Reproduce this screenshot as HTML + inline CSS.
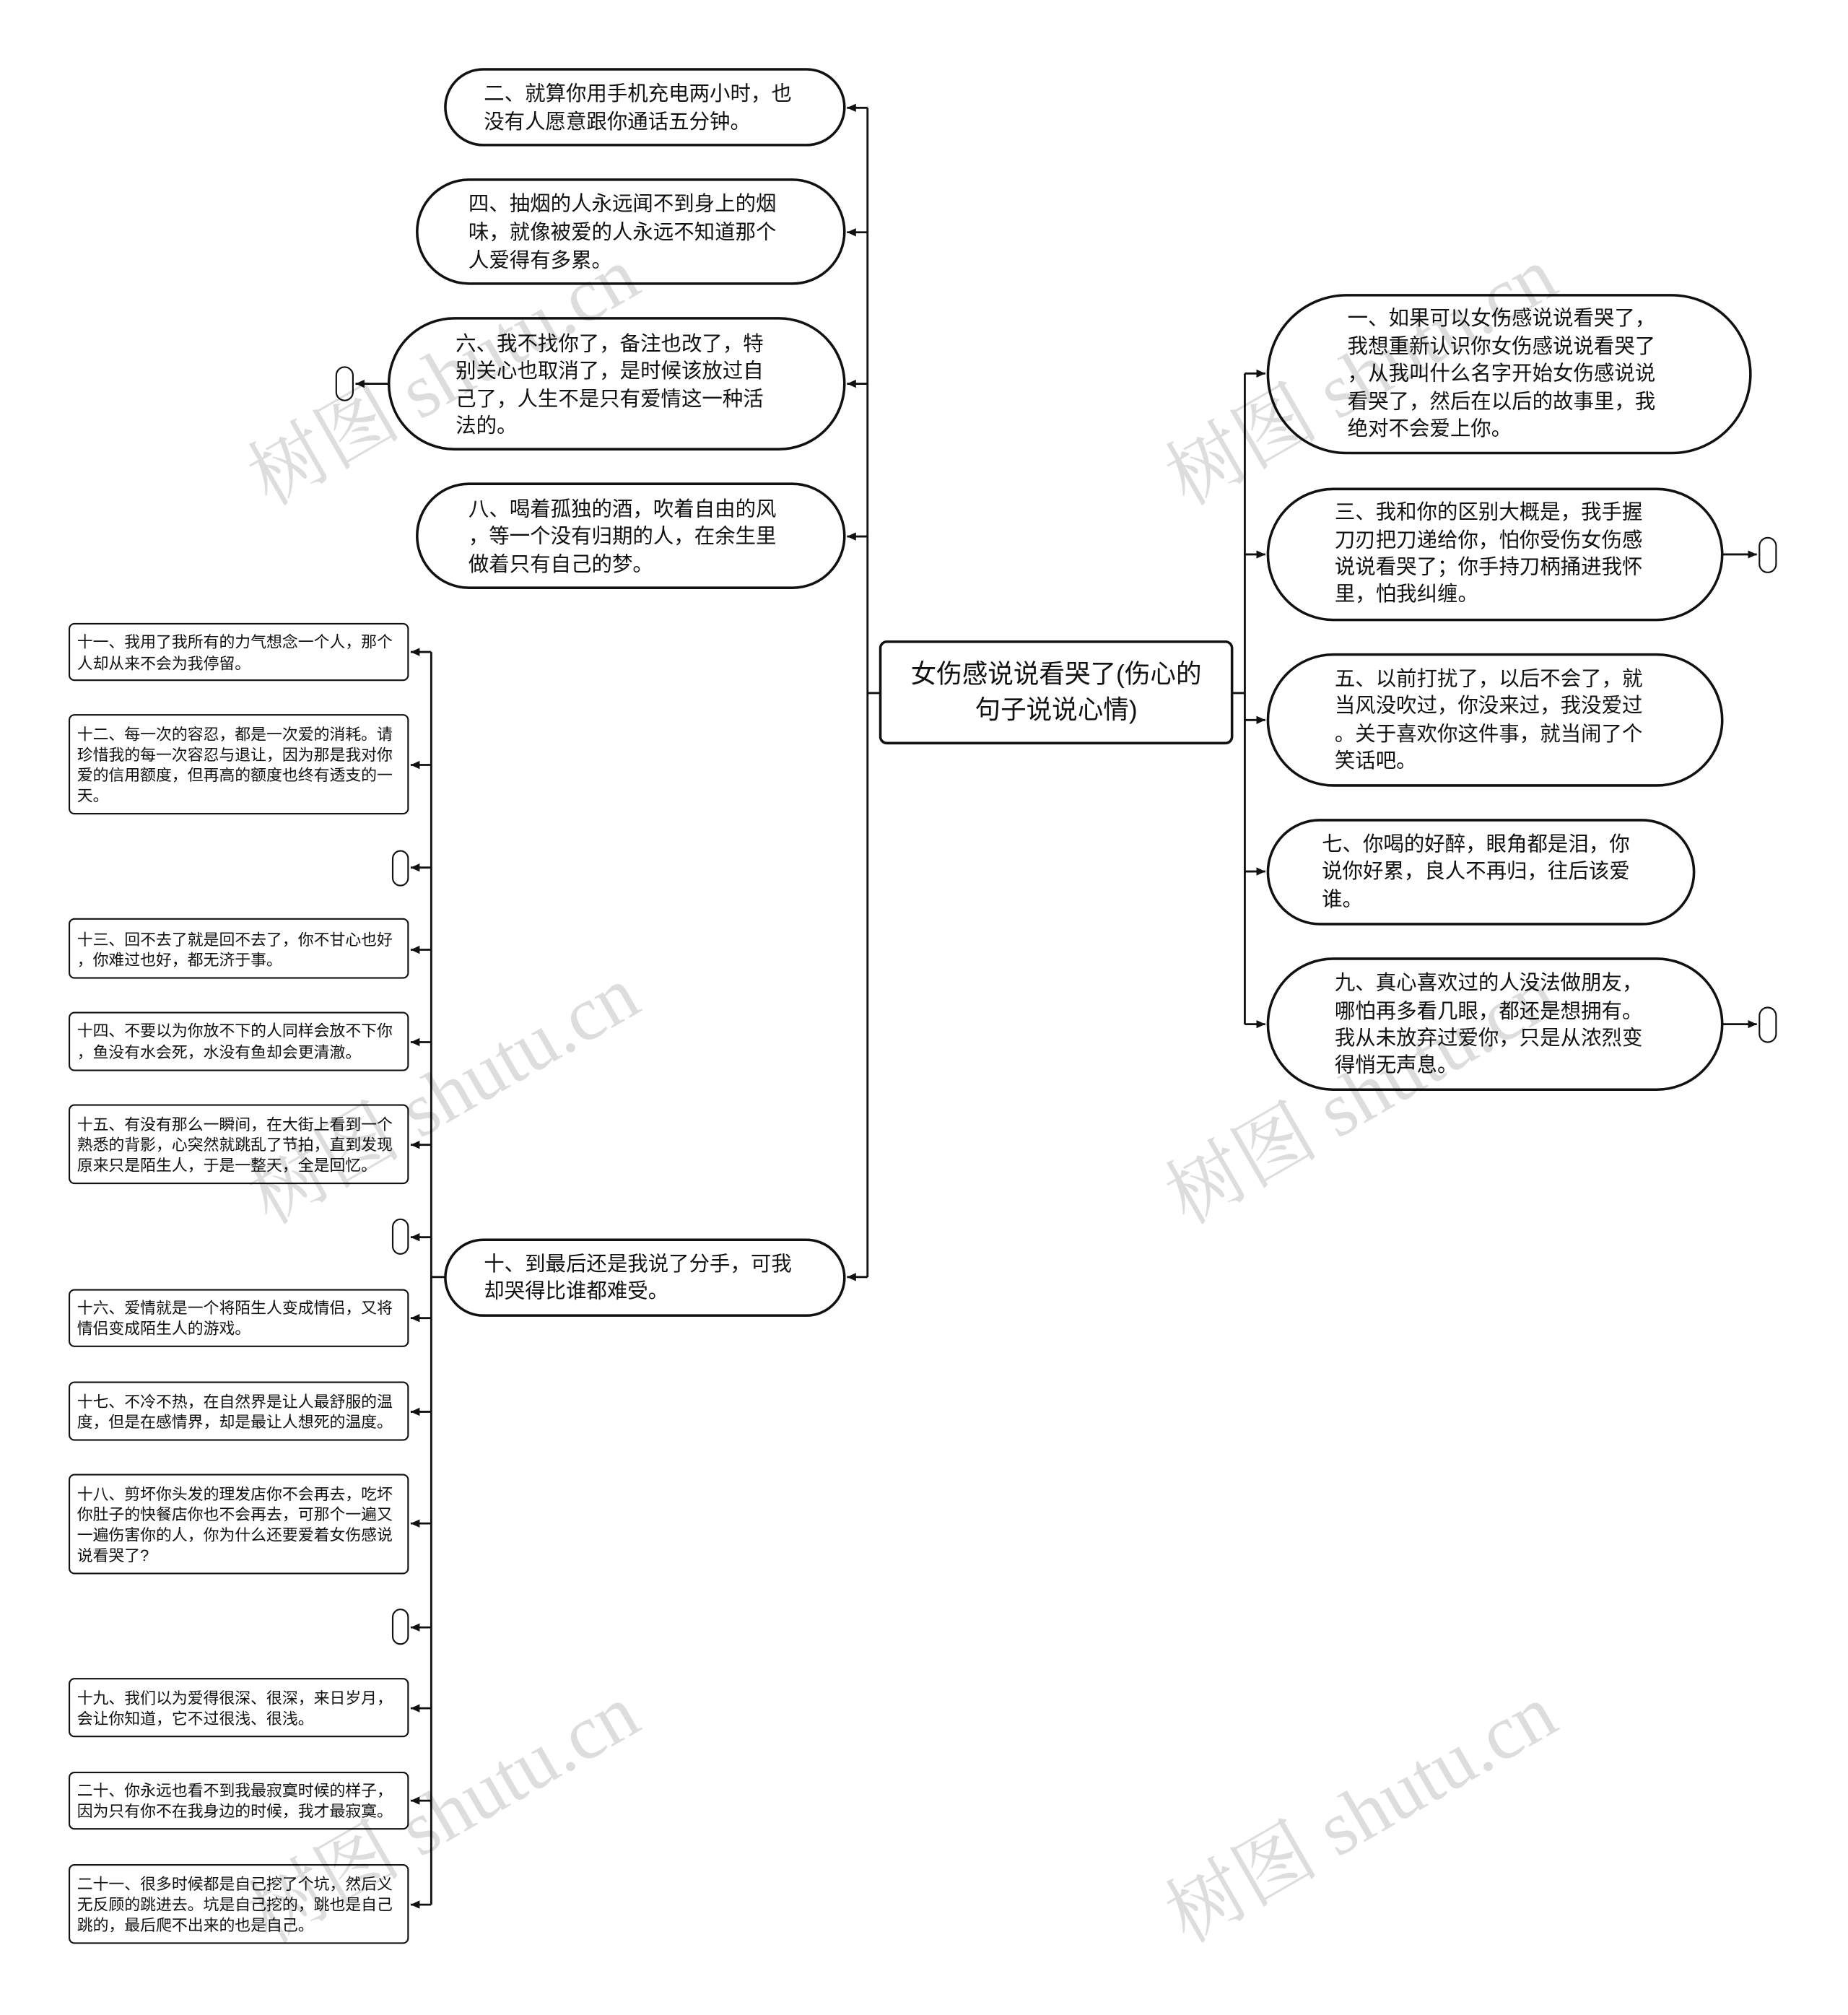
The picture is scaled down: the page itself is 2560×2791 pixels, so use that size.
<!DOCTYPE html>
<html><head><meta charset="utf-8"><style>
html,body{margin:0;padding:0;background:#fff}
svg{display:block}
text{font-family:"Liberation Sans","Noto Sans CJK SC",sans-serif;fill:#111}
.m{font-size:16px}
.s{font-size:12.3px}
.c{font-size:20px}
.w{font-family:"Liberation Serif","Noto Serif CJK SC",serif;font-size:60px;fill:#000;opacity:0.13}
</style></head><body>
<svg width="2560" height="2791" viewBox="0 0 1440 1570" xmlns="http://www.w3.org/2000/svg">
<defs>
<marker id="a" markerWidth="8" markerHeight="8" refX="7" refY="4" orient="auto" markerUnits="userSpaceOnUse"><path d="M0,0.8 L7,4 L0,7.2 z" fill="#111"/></marker>
</defs>
<g stroke="#111" stroke-width="1.6" fill="none">
<line x1="686" y1="540" x2="676" y2="540"/>
<line x1="960" y1="540" x2="970" y2="540"/>
<line x1="676" y1="84" x2="676" y2="995"/>
<line x1="970" y1="291" x2="970" y2="798"/>
<line x1="676" y1="84" x2="660" y2="84" marker-end="url(#a)"/>
<line x1="676" y1="181" x2="660" y2="181" marker-end="url(#a)"/>
<line x1="676" y1="299" x2="660" y2="299" marker-end="url(#a)"/>
<line x1="676" y1="418" x2="660" y2="418" marker-end="url(#a)"/>
<line x1="676" y1="995" x2="660" y2="995" marker-end="url(#a)"/>
<line x1="303" y1="299" x2="277" y2="299" marker-end="url(#a)"/>
<line x1="970" y1="291" x2="986" y2="291" marker-end="url(#a)"/>
<line x1="970" y1="432" x2="986" y2="432" marker-end="url(#a)"/>
<line x1="970" y1="561" x2="986" y2="561" marker-end="url(#a)"/>
<line x1="970" y1="679" x2="986" y2="679" marker-end="url(#a)"/>
<line x1="970" y1="798" x2="986" y2="798" marker-end="url(#a)"/>
<line x1="1342" y1="432" x2="1369" y2="432" marker-end="url(#a)"/>
<line x1="1342" y1="798" x2="1369" y2="798" marker-end="url(#a)"/>
<line x1="347" y1="995" x2="336" y2="995"/>
<line x1="336" y1="508" x2="336" y2="1484"/>
<line x1="336" y1="508" x2="320" y2="508" marker-end="url(#a)"/>
<line x1="336" y1="596" x2="320" y2="596" marker-end="url(#a)"/>
<line x1="336" y1="676" x2="320" y2="676" marker-end="url(#a)"/>
<line x1="336" y1="740" x2="320" y2="740" marker-end="url(#a)"/>
<line x1="336" y1="812" x2="320" y2="812" marker-end="url(#a)"/>
<line x1="336" y1="892" x2="320" y2="892" marker-end="url(#a)"/>
<line x1="336" y1="964" x2="320" y2="964" marker-end="url(#a)"/>
<line x1="336" y1="1027" x2="320" y2="1027" marker-end="url(#a)"/>
<line x1="336" y1="1100" x2="320" y2="1100" marker-end="url(#a)"/>
<line x1="336" y1="1187" x2="320" y2="1187" marker-end="url(#a)"/>
<line x1="336" y1="1268" x2="320" y2="1268" marker-end="url(#a)"/>
<line x1="336" y1="1331" x2="320" y2="1331" marker-end="url(#a)"/>
<line x1="336" y1="1403" x2="320" y2="1403" marker-end="url(#a)"/>
<line x1="336" y1="1484" x2="320" y2="1484" marker-end="url(#a)"/>
</g>
<g stroke="#111" stroke-width="2" fill="#fff">
<rect x="686" y="500" width="274" height="79" rx="5"/>
<rect x="347" y="54" width="311" height="59" rx="29.5"/>
<rect x="325" y="140" width="333" height="81" rx="40.5"/>
<rect x="303" y="248" width="355" height="102" rx="51"/>
<rect x="325" y="377" width="333" height="81" rx="40.5"/>
<rect x="347" y="966" width="311" height="59" rx="29.5"/>
<rect x="988" y="230" width="376" height="123" rx="61.5"/>
<rect x="988" y="381" width="354" height="102" rx="51"/>
<rect x="988" y="510" width="354" height="102" rx="51"/>
<rect x="988" y="639" width="332" height="81" rx="40.5"/>
<rect x="988" y="747" width="354" height="102" rx="51"/>
</g>
<g stroke="#111" stroke-width="1.2" fill="#fff">
<rect x="262" y="286" width="13" height="26" rx="6.5"/>
<rect x="1371" y="419" width="13" height="27" rx="6.5"/>
<rect x="1371" y="785" width="13" height="27" rx="6.5"/>
<rect x="306" y="663" width="12" height="27" rx="6"/>
<rect x="306" y="950" width="12" height="27" rx="6"/>
<rect x="306" y="1254" width="12" height="27" rx="6"/>
<rect x="54" y="486" width="264" height="44" rx="4"/>
<rect x="54" y="557" width="264" height="77" rx="4"/>
<rect x="54" y="716" width="264" height="46" rx="4"/>
<rect x="54" y="789" width="264" height="45" rx="4"/>
<rect x="54" y="861" width="264" height="61" rx="4"/>
<rect x="54" y="1005" width="264" height="44" rx="4"/>
<rect x="54" y="1077" width="264" height="45" rx="4"/>
<rect x="54" y="1149" width="264" height="77" rx="4"/>
<rect x="54" y="1308" width="264" height="45" rx="4"/>
<rect x="54" y="1381" width="264" height="44" rx="4"/>
<rect x="54" y="1453" width="264" height="61" rx="4"/>
</g>
<g dominant-baseline="central">
<text class="c" x="823" y="525" text-anchor="middle">女伤感说说看哭了(伤心的</text>
<text class="c" x="823" y="553" text-anchor="middle">句子说说心情)</text>
<g class="m">
<text x="377" y="73">二、就算你用手机充电两小时，也</text>
<text x="377" y="95">没有人愿意跟你通话五分钟。</text>
<text x="365" y="159">四、抽烟的人永远闻不到身上的烟</text>
<text x="365" y="181">味，就像被爱的人永远不知道那个</text>
<text x="365" y="203">人爱得有多累。</text>
<text x="355" y="268">六、我不找你了，备注也改了，特</text>
<text x="355" y="289">别关心也取消了，是时候该放过自</text>
<text x="355" y="311">己了，人生不是只有爱情这一种活</text>
<text x="355" y="332">法的。</text>
<text x="365" y="397">八、喝着孤独的酒，吹着自由的风</text>
<text x="365" y="418">，等一个没有归期的人，在余生里</text>
<text x="365" y="440">做着只有自己的梦。</text>
<text x="377" y="985">十、到最后还是我说了分手，可我</text>
<text x="377" y="1006">却哭得比谁都难受。</text>
<text x="1050" y="248">一、如果可以女伤感说说看哭了，</text>
<text x="1050" y="270">我想重新认识你女伤感说说看哭了</text>
<text x="1050" y="291">，从我叫什么名字开始女伤感说说</text>
<text x="1050" y="313">看哭了，然后在以后的故事里，我</text>
<text x="1050" y="334">绝对不会爱上你。</text>
<text x="1040" y="399">三、我和你的区别大概是，我手握</text>
<text x="1040" y="421">刀刃把刀递给你，怕你受伤女伤感</text>
<text x="1040" y="442">说说看哭了；你手持刀柄捅进我怀</text>
<text x="1040" y="463">里，怕我纠缠。</text>
<text x="1040" y="529">五、以前打扰了，以后不会了，就</text>
<text x="1040" y="550">当风没吹过，你没来过，我没爱过</text>
<text x="1040" y="572">。关于喜欢你这件事，就当闹了个</text>
<text x="1040" y="593">笑话吧。</text>
<text x="1030" y="658">七、你喝的好醉，眼角都是泪，你</text>
<text x="1030" y="679">说你好累，良人不再归，往后该爱</text>
<text x="1030" y="701">谁。</text>
<text x="1040" y="766">九、真心喜欢过的人没法做朋友，</text>
<text x="1040" y="788">哪怕再多看几眼，都还是想拥有。</text>
<text x="1040" y="809">我从未放弃过爱你，只是从浓烈变</text>
<text x="1040" y="830">得悄无声息。</text>
</g>
<g class="s">
<text x="60" y="500">十一、我用了我所有的力气想念一个人，那个</text>
<text x="60" y="517">人却从来不会为我停留。</text>
<text x="60" y="572">十二、每一次的容忍，都是一次爱的消耗。请</text>
<text x="60" y="588">珍惜我的每一次容忍与退让，因为那是我对你</text>
<text x="60" y="604">爱的信用额度，但再高的额度也终有透支的一</text>
<text x="60" y="620">天。</text>
<text x="60" y="732">十三、回不去了就是回不去了，你不甘心也好</text>
<text x="60" y="748">，你难过也好，都无济于事。</text>
<text x="60" y="803">十四、不要以为你放不下的人同样会放不下你</text>
<text x="60" y="820">，鱼没有水会死，水没有鱼却会更清澈。</text>
<text x="60" y="876">十五、有没有那么一瞬间，在大街上看到一个</text>
<text x="60" y="892">熟悉的背影，心突然就跳乱了节拍，直到发现</text>
<text x="60" y="908">原来只是陌生人，于是一整天，全是回忆。</text>
<text x="60" y="1019">十六、爱情就是一个将陌生人变成情侣，又将</text>
<text x="60" y="1035">情侣变成陌生人的游戏。</text>
<text x="60" y="1092">十七、不冷不热，在自然界是让人最舒服的温</text>
<text x="60" y="1108">度，但是在感情界，却是最让人想死的温度。</text>
<text x="60" y="1164">十八、剪坏你头发的理发店你不会再去，吃坏</text>
<text x="60" y="1180">你肚子的快餐店你也不会再去，可那个一遍又</text>
<text x="60" y="1196">一遍伤害你的人，你为什么还要爱着女伤感说</text>
<text x="60" y="1212">说看哭了?</text>
<text x="60" y="1323">十九、我们以为爱得很深、很深，来日岁月，</text>
<text x="60" y="1339">会让你知道，它不过很浅、很浅。</text>
<text x="60" y="1395">二十、你永远也看不到我最寂寞时候的样子，</text>
<text x="60" y="1411">因为只有你不在我身边的时候，我才最寂寞。</text>
<text x="60" y="1468">二十一、很多时候都是自己挖了个坑，然后义</text>
<text x="60" y="1484">无反顾的跳进去。坑是自己挖的，跳也是自己</text>
<text x="60" y="1500">跳的，最后爬不出来的也是自己。</text>
</g>
</g>
<g>
<text class="w" transform="translate(210,395) rotate(-30)">树图 shutu.cn</text>
<text class="w" transform="translate(925,395) rotate(-30)">树图 shutu.cn</text>
<text class="w" transform="translate(210,955) rotate(-30)">树图 shutu.cn</text>
<text class="w" transform="translate(925,955) rotate(-30)">树图 shutu.cn</text>
<text class="w" transform="translate(210,1515) rotate(-30)">树图 shutu.cn</text>
<text class="w" transform="translate(925,1515) rotate(-30)">树图 shutu.cn</text>
</g>
</svg>
</body></html>
